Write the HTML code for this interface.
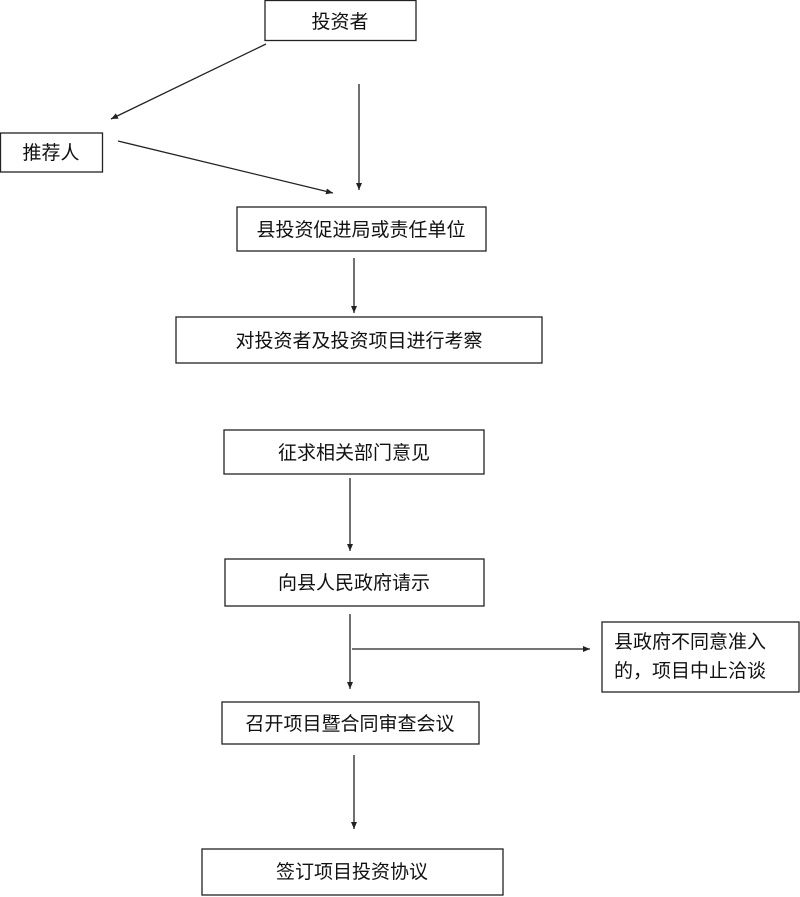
<!DOCTYPE html>
<html><head><meta charset="utf-8"><style>
html,body{margin:0;padding:0;background:#fff;}
svg{display:block;}
text{font-family:"Liberation Sans","Noto Sans CJK SC","WenQuanYi Zen Hei",sans-serif;font-size:19px;fill:#111;}
</style></head><body>
<svg width="800" height="897" viewBox="0 0 800 897" xmlns="http://www.w3.org/2000/svg">
<defs><marker id="a" markerWidth="8" markerHeight="8" refX="7" refY="4" orient="auto" markerUnits="userSpaceOnUse"><path d="M0,1 L7,4 L0,7 Z" fill="#222"/></marker></defs>
<g fill="none" stroke="#222" stroke-width="1.3">
<rect x="265" y="0.5" width="151" height="40"/>
<rect x="0.5" y="133" width="102" height="39"/>
<rect x="237" y="207" width="249" height="44"/>
<rect x="176" y="317" width="366" height="46"/>
<rect x="224" y="430" width="260" height="44"/>
<rect x="225" y="559" width="259" height="47"/>
<rect x="602" y="622" width="197" height="70"/>
<rect x="222" y="702" width="257" height="42"/>
<rect x="202" y="849" width="301" height="46"/>
<line x1="266" y1="44" x2="111" y2="119" marker-end="url(#a)"/>
<line x1="359" y1="84" x2="359" y2="190" marker-end="url(#a)"/>
<line x1="118" y1="141" x2="333" y2="193" marker-end="url(#a)"/>
<line x1="354" y1="258" x2="354" y2="313" marker-end="url(#a)"/>
<line x1="350" y1="478" x2="350" y2="551" marker-end="url(#a)"/>
<line x1="350" y1="614" x2="350" y2="689" marker-end="url(#a)"/>
<line x1="352" y1="649" x2="590" y2="649" marker-end="url(#a)"/>
<line x1="354" y1="755" x2="354" y2="829" marker-end="url(#a)"/>
</g>
<text x="340" y="28" text-anchor="middle">投资者</text>
<text x="51" y="159" text-anchor="middle">推荐人</text>
<text x="361" y="236" text-anchor="middle">县投资促进局或责任单位</text>
<text x="359" y="347" text-anchor="middle">对投资者及投资项目进行考察</text>
<text x="354" y="459" text-anchor="middle">征求相关部门意见</text>
<text x="354" y="589" text-anchor="middle">向县人民政府请示</text>
<text x="350" y="730" text-anchor="middle">召开项目暨合同审查会议</text>
<text x="352" y="878" text-anchor="middle">签订项目投资协议</text>
<text x="614" y="648">县政府不同意准入</text>
<text x="614" y="677">的，项目中止洽谈</text>
</svg>
</body></html>
